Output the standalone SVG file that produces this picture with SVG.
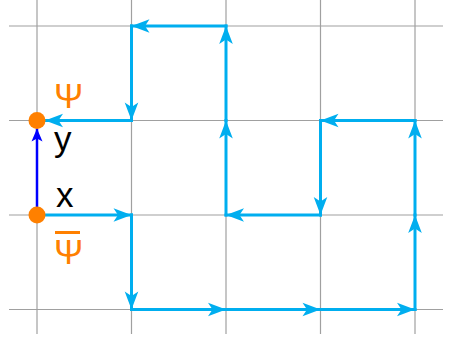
<svg xmlns="http://www.w3.org/2000/svg" width="457" height="341" viewBox="0 0 457 341">
<defs>
<style>
.grid line{stroke:#a0a0a0;stroke-width:1.2}
.c{stroke:#00aeef;stroke-width:3;stroke-linecap:square;fill:none;marker-end:url(#ac)}
.b{stroke:#0000ff;stroke-width:2.5;fill:none;marker-end:url(#ab)}
.lbl{font-family:"Liberation Sans",Arial,sans-serif;font-size:35px}
.o{fill:#ff8000}
</style>
<marker id="ac" markerUnits="userSpaceOnUse" refX="0" refY="0" markerWidth="1" markerHeight="1" orient="auto" overflow="visible">
<path d="M0,0 L-18,-6.8 L-13.5,0 L-18,6.8 Z" fill="#00aeef"/>
</marker>
<marker id="ab" markerUnits="userSpaceOnUse" refX="0" refY="0" markerWidth="1" markerHeight="1" orient="auto" overflow="visible">
<path d="M0,0 L-13,-5.5 L-10,0 L-13,5.5 Z" fill="#0000ff"/>
</marker>
</defs>
<rect width="457" height="341" fill="#fff"/>
<g class="grid">
<line x1="37" y1="0" x2="37" y2="334"/>
<line x1="131.5" y1="0" x2="131.5" y2="334"/>
<line x1="226" y1="0" x2="226" y2="334"/>
<line x1="320.5" y1="0" x2="320.5" y2="334"/>
<line x1="415" y1="0" x2="415" y2="334"/>
<line x1="9" y1="26" x2="443" y2="26"/>
<line x1="9" y1="120.5" x2="443" y2="120.5"/>
<line x1="9" y1="215" x2="443" y2="215"/>
<line x1="9" y1="309.5" x2="443" y2="309.5"/>
</g>
<g id="connectors">
<line class="c" x1="37" y1="215" x2="131.5" y2="215"/>
<line class="c" x1="131.5" y1="215" x2="131.5" y2="309.5"/>
<line class="c" x1="131.5" y1="309.5" x2="226" y2="309.5"/>
<line class="c" x1="226" y1="309.5" x2="320.5" y2="309.5"/>
<line class="c" x1="320.5" y1="309.5" x2="415" y2="309.5"/>
<line class="c" x1="415" y1="309.5" x2="415" y2="215"/>
<line class="c" x1="415" y1="215" x2="415" y2="120.5"/>
<line class="c" x1="415" y1="120.5" x2="320.5" y2="120.5"/>
<line class="c" x1="320.5" y1="120.5" x2="320.5" y2="215"/>
<line class="c" x1="320.5" y1="215" x2="226" y2="215"/>
<line class="c" x1="226" y1="215" x2="226" y2="120.5"/>
<line class="c" x1="226" y1="120.5" x2="226" y2="26"/>
<line class="c" x1="226" y1="26" x2="131.5" y2="26"/>
<line class="c" x1="131.5" y1="26" x2="131.5" y2="120.5"/>
<line class="c" x1="131.5" y1="120.5" x2="45" y2="120.5"/>
<line class="b" x1="37" y1="207" x2="37" y2="128.5"/>
</g>
<g id="psi">
<circle cx="37" cy="120.5" r="8.5" class="o"/>
<text x="54" y="108" class="lbl o">Ψ</text>
<text x="54" y="151" class="lbl">y</text>
</g>
<g id="psibar">
<circle cx="37" cy="215" r="8.5" class="o"/>
<text x="56" y="207" class="lbl">x</text>
<text x="54" y="264" class="lbl o">Ψ</text>
<rect x="55" y="231" width="25" height="3" class="o"/>
</g>
</svg>
